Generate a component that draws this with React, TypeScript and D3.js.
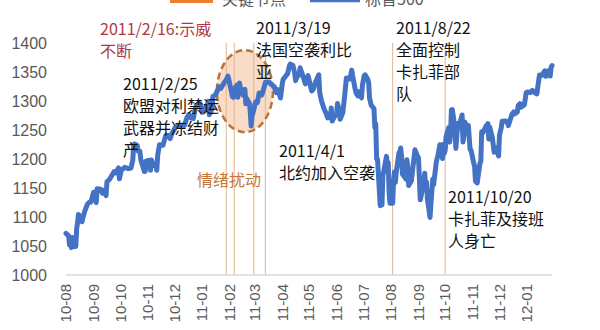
import React from "react";
import * as d3 from "d3";

// S&P 500 daily closes (selected trading days)
const spxDates: string[] = [
  "2010-08-20","2010-08-23","2010-08-24","2010-08-25","2010-08-26","2010-08-27","2010-08-30","2010-08-31",
  "2010-09-01","2010-09-02","2010-09-03","2010-09-07","2010-09-08","2010-09-10","2010-09-13","2010-09-15",
  "2010-09-17","2010-09-20","2010-09-22","2010-09-23","2010-09-24","2010-09-28","2010-09-30","2010-10-01",
  "2010-10-04","2010-10-05","2010-10-08","2010-10-13","2010-10-15","2010-10-18","2010-10-19","2010-10-21",
  "2010-10-25","2010-10-29","2010-11-01","2010-11-03","2010-11-04","2010-11-05","2010-11-08","2010-11-09",
  "2010-11-11","2010-11-12","2010-11-16","2010-11-17","2010-11-18","2010-11-22","2010-11-23","2010-11-24",
  "2010-11-26","2010-11-29","2010-11-30","2010-12-01","2010-12-03","2010-12-07","2010-12-10","2010-12-13",
  "2010-12-15","2010-12-17","2010-12-21","2010-12-23","2010-12-28","2010-12-31",
  "2011-01-03","2011-01-05","2011-01-07","2011-01-10","2011-01-12","2011-01-14","2011-01-18","2011-01-20",
  "2011-01-21","2011-01-25","2011-01-27","2011-01-28","2011-01-31","2011-02-01","2011-02-04","2011-02-08",
  "2011-02-10","2011-02-14","2011-02-16","2011-02-18","2011-02-22","2011-02-23","2011-02-24","2011-02-25",
  "2011-02-28","2011-03-01","2011-03-03","2011-03-04","2011-03-07","2011-03-09","2011-03-10","2011-03-11",
  "2011-03-14","2011-03-15","2011-03-16","2011-03-17","2011-03-18","2011-03-21","2011-03-23","2011-03-25",
  "2011-03-28","2011-03-31","2011-04-01","2011-04-05","2011-04-08","2011-04-11","2011-04-13","2011-04-15",
  "2011-04-18","2011-04-20","2011-04-21","2011-04-26","2011-04-28","2011-04-29","2011-05-02","2011-05-04",
  "2011-05-05","2011-05-06","2011-05-09","2011-05-10","2011-05-12","2011-05-16","2011-05-18","2011-05-19",
  "2011-05-23","2011-05-25","2011-05-27","2011-05-31","2011-06-01","2011-06-03","2011-06-06","2011-06-08",
  "2011-06-10","2011-06-13","2011-06-14","2011-06-15","2011-06-17","2011-06-20","2011-06-21","2011-06-23",
  "2011-06-24","2011-06-27","2011-06-29","2011-07-01","2011-07-05","2011-07-07","2011-07-08","2011-07-11",
  "2011-07-12","2011-07-14","2011-07-15","2011-07-18","2011-07-19","2011-07-21","2011-07-22","2011-07-25",
  "2011-07-26","2011-07-27","2011-07-29","2011-08-01","2011-08-02","2011-08-03","2011-08-04","2011-08-05",
  "2011-08-08","2011-08-09","2011-08-10","2011-08-11","2011-08-12","2011-08-15","2011-08-16","2011-08-17",
  "2011-08-18","2011-08-19","2011-08-22","2011-08-23","2011-08-24","2011-08-25","2011-08-26","2011-08-29",
  "2011-08-30","2011-08-31","2011-09-01","2011-09-02","2011-09-06","2011-09-07","2011-09-08","2011-09-09",
  "2011-09-12","2011-09-14","2011-09-16","2011-09-19","2011-09-20","2011-09-21","2011-09-22","2011-09-23",
  "2011-09-26","2011-09-27","2011-09-28","2011-09-29","2011-09-30","2011-10-03","2011-10-04","2011-10-05",
  "2011-10-06","2011-10-07","2011-10-10","2011-10-12","2011-10-14","2011-10-17","2011-10-18","2011-10-19",
  "2011-10-20","2011-10-21","2011-10-24","2011-10-25","2011-10-26","2011-10-27","2011-10-28","2011-10-31",
  "2011-11-01","2011-11-02","2011-11-03","2011-11-04","2011-11-08","2011-11-09","2011-11-10","2011-11-11",
  "2011-11-14","2011-11-15","2011-11-16","2011-11-17","2011-11-18","2011-11-21","2011-11-22","2011-11-23",
  "2011-11-25","2011-11-28","2011-11-29","2011-11-30","2011-12-01","2011-12-05","2011-12-06","2011-12-07",
  "2011-12-08","2011-12-09","2011-12-12","2011-12-14","2011-12-16","2011-12-19","2011-12-20","2011-12-22",
  "2011-12-23","2011-12-27","2011-12-29","2011-12-30",
  "2012-01-03","2012-01-05","2012-01-06","2012-01-09","2012-01-10","2012-01-12","2012-01-13","2012-01-17",
  "2012-01-19","2012-01-20","2012-01-24","2012-01-26","2012-01-27","2012-01-30","2012-01-31","2012-02-01",
  "2012-02-03","2012-02-06","2012-02-08","2012-02-09","2012-02-10","2012-02-13","2012-02-14","2012-02-15",
  "2012-02-16","2012-02-17",
];

const spxValues: number[] = [
  1071.7,1067.4,1051.9,1055.3,1047.2,1064.6,1048.9,1049.3,
  1080.3,1090.1,1104.5,1091.8,1098.9,1109.6,1121.9,1125.1,
  1125.6,1142.7,1134.3,1124.8,1148.7,1147.7,1141.2,1146.2,
  1137.0,1160.8,1165.2,1178.1,1176.2,1184.7,1165.9,1180.3,
  1185.6,1183.3,1184.4,1197.9,1221.1,1225.9,1223.3,1213.4,
  1213.5,1199.2,1178.3,1178.6,1196.7,1197.8,1180.7,1198.4,
  1189.4,1187.8,1180.6,1206.1,1224.7,1223.8,1240.4,1240.5,
  1235.2,1243.9,1254.6,1256.8,1258.5,1257.6,
  1271.9,1276.6,1271.5,1269.8,1285.9,1293.2,1295.0,1280.3,
  1283.4,1291.2,1299.5,1276.3,1286.1,1307.6,1310.9,1324.6,
  1321.9,1332.3,1336.3,1343.0,1315.4,1307.4,1306.1,1319.9,
  1327.2,1306.3,1330.9,1321.2,1310.1,1320.0,1295.1,1304.3,
  1296.4,1281.9,1256.9,1273.7,1279.2,1298.4,1297.5,1313.8,
  1310.2,1325.8,1332.4,1332.6,1328.2,1324.5,1314.5,1319.7,
  1305.1,1330.4,1337.4,1347.2,1360.5,1363.6,1361.2,1347.3,
  1335.1,1340.2,1346.3,1357.2,1348.7,1329.5,1340.7,1343.6,
  1317.4,1320.5,1331.1,1345.2,1314.6,1300.2,1286.2,1279.6,
  1270.9,1271.8,1287.9,1265.4,1271.5,1278.4,1295.5,1283.5,
  1268.5,1280.1,1307.6,1339.7,1337.9,1353.2,1343.8,1319.5,
  1313.6,1308.9,1316.1,1305.4,1326.7,1343.8,1345.0,1337.4,
  1331.9,1304.9,1292.3,1286.9,1254.1,1260.3,1200.1,1199.4,
  1119.5,1172.5,1120.8,1172.6,1178.8,1204.5,1192.8,1193.9,
  1140.7,1123.5,1123.8,1162.4,1177.6,1159.3,1176.8,1210.1,
  1212.9,1218.9,1204.4,1174.0,1165.2,1198.6,1185.9,1154.2,
  1162.3,1188.7,1216.0,1204.1,1202.1,1166.8,1129.6,1136.4,
  1162.9,1175.4,1151.1,1160.4,1131.4,1099.2,1123.9,1144.0,
  1165.0,1155.5,1194.9,1207.3,1224.6,1200.9,1225.4,1209.9,
  1215.4,1238.3,1254.2,1229.1,1242.0,1284.6,1285.1,1253.3,
  1218.3,1237.9,1261.2,1253.2,1275.9,1229.1,1239.7,1263.9,
  1251.8,1257.8,1236.9,1216.1,1215.7,1193.0,1188.0,1161.8,
  1158.7,1192.6,1195.2,1247.0,1244.6,1257.1,1258.5,1261.0,
  1234.4,1255.2,1236.5,1211.8,1219.7,1205.4,1241.3,1254.0,
  1265.3,1265.4,1263.0,1257.6,
  1277.1,1281.1,1277.8,1280.7,1292.1,1295.5,1289.1,1293.7,
  1314.5,1315.4,1314.7,1318.4,1316.3,1313.0,1312.4,1324.1,
  1344.9,1344.3,1350.0,1352.0,1342.6,1351.8,1350.5,1343.2,
  1358.0,1361.2,
];

// Month labels along the date axis
const monthLabels: string[] = [
  "10-08","10-09","10-10","10-11","10-12","11-01","11-02","11-03","11-04",
  "11-05","11-06","11-07","11-08","11-09","11-10","11-11","11-12","12-01",
];

const yTicks: number[] = [1000, 1050, 1100, 1150, 1200, 1250, 1300, 1350, 1400];

// Key events (关键节点)
const eventDates: string[] = [
  "2011-02-16","2011-02-25","2011-03-19","2011-04-01","2011-08-22","2011-10-20",
];

const legendNames: string[] = ["关键节点", "标普500"];
const moodLabel = "情绪扰动";

const parse = d3.timeParse("%Y-%m-%d")!;

const W = 600;
const H = 330;
const X0 = 66;
const X1 = 552;
const Y_TOP = 43;
const Y_BOT = 275;

const CJK = '"Noto Sans CJK SC", "Noto Sans", sans-serif';
const NUM = '"Liberation Sans", Arial, sans-serif';

type Note = { x: number; y: number; lines: string[]; color: string };

export default function App() {
  const x = d3
    .scaleTime()
    .domain([parse("2010-08-20")!, parse("2012-02-17")!])
    .range([X0, X1]);
  const y = d3.scaleLinear().domain([1000, 1400]).range([Y_BOT, Y_TOP]);

  const points: [Date, number][] = spxDates.map((d, i) => [parse(d)!, spxValues[i]]);
  const line = d3
    .line<[Date, number]>()
    .x((d) => x(d[0]))
    .y((d) => y(d[1]))
    .curve(d3.curveLinear);

  const tickDates = monthLabels.map((m) => parse(`20${m}-20`)!);

  const notes: Note[] = [
    { x: 100, y: 35, lines: ["2011/2/16:示威", "不断"], color: "#B0383E" },
    { x: 123, y: 90, lines: ["2011/2/25", "欧盟对利禁运", "武器并冻结财", "产"], color: "#111" },
    { x: 256, y: 34, lines: ["2011/3/19", "法国空袭利比", "亚"], color: "#111" },
    { x: 279, y: 157, lines: ["2011/4/1", "北约加入空袭"], color: "#111" },
    { x: 396, y: 34, lines: ["2011/8/22", "全面控制", "卡扎菲部", "队"], color: "#111" },
    { x: 448, y: 203, lines: ["2011/10/20", "卡扎菲及接班", "人身亡"], color: "#111" },
  ];

  const ellipseCx = x(parse("2011-03-09")!);
  const ellipseCy = y(1317);

  return (
    <svg
      width={W}
      height={H}
      style={{ position: "absolute", left: 0, top: 0, background: "#fff" }}
    >
      {/* legend, partly above the top edge */}
      <rect x={170} y={-5} width={43} height={8} fill="#ED7D31" />
      <text x={222} y={5} fontFamily={CJK} fontSize={16} fill="#595959">
        {legendNames[0]}
      </text>
      <line x1={310} x2={360} y1={0} y2={0} stroke="#4472C4" strokeWidth={4.5} />
      <text x={365} y={5} fontFamily={CJK} fontSize={16} fill="#595959">
        {legendNames[1]}
      </text>

      {/* y axis labels */}
      {yTicks.map((t) => (
        <text
          key={t}
          x={47}
          y={y(t)}
          dy="0.35em"
          textAnchor="end"
          fontFamily={NUM}
          fontSize={16}
          fill="#595959"
        >
          {t}
        </text>
      ))}

      {/* emotional disturbance zone */}
      <ellipse cx={ellipseCx} cy={ellipseCy} rx={28} ry={41} fill="#F8D6BD" fillOpacity={0.85} />

      {/* key event markers */}
      {eventDates.map((d) => (
        <line
          key={d}
          x1={x(parse(d)!)}
          x2={x(parse(d)!)}
          y1={y(1400)}
          y2={Y_BOT}
          stroke="#E3B48E"
          strokeWidth={1}
        />
      ))}

      <ellipse
        cx={ellipseCx}
        cy={ellipseCy}
        rx={28}
        ry={41}
        fill="none"
        stroke="#B8743C"
        strokeWidth={2.5}
        strokeDasharray="7 4"
      />

      {/* x axis */}
      <line x1={X0} x2={X1} y1={Y_BOT} y2={Y_BOT} stroke="#D9D9D9" strokeWidth={1.5} />
      {monthLabels.map((m, i) => (
        <text
          key={m}
          transform={`translate(${x(tickDates[i])},284) rotate(-90)`}
          dy="0.35em"
          textAnchor="end"
          fontFamily={NUM}
          fontSize={15}
          fill="#595959"
        >
          {m}
        </text>
      ))}

      {/* S&P 500 */}
      <path
        d={line(points) ?? ""}
        fill="none"
        stroke="#4472C4"
        strokeWidth={5}
        strokeLinejoin="round"
        strokeLinecap="round"
      />

      {/* event notes */}
      {notes.map((n, i) => (
        <text key={i} fontFamily={CJK} fontSize={16} fill={n.color}>
          {n.lines.map((l, j) => (
            <tspan key={j} x={n.x} y={n.y + j * 22}>
              {l}
            </tspan>
          ))}
        </text>
      ))}

      <text x={197} y={186} fontFamily={CJK} fontSize={16} fill="#C8773A">
        {moodLabel}
      </text>
    </svg>
  );
}
